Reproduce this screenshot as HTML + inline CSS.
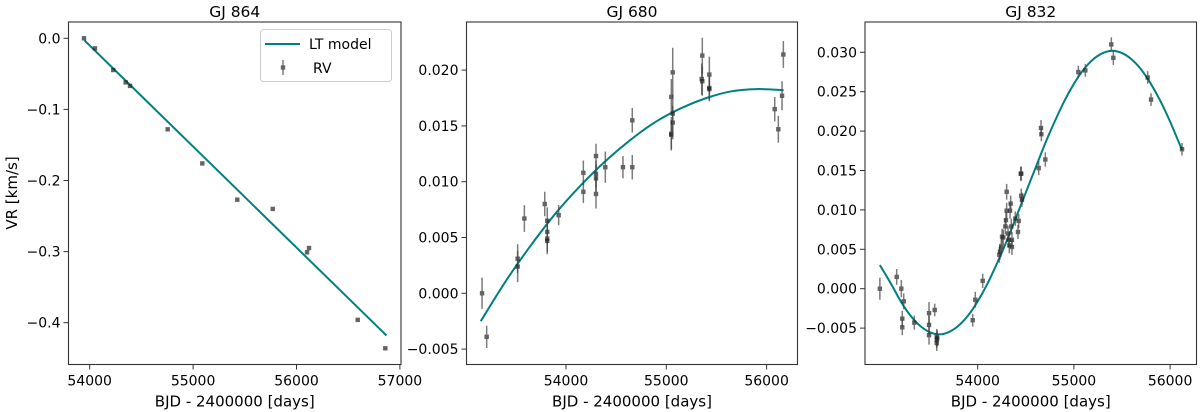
<!DOCTYPE html>
<html><head><meta charset="utf-8">
<style>
html,body{margin:0;padding:0;background:#fff;}
svg{display:block;font-family:"DejaVu Sans","Liberation Sans",sans-serif;}
</style></head>
<body>
<svg id="fig" width="1200" height="412" viewBox="0 0 1200 412" xmlns="http://www.w3.org/2000/svg"></svg>
<script>
// ---------- GJ 864 ----------
const p1DaysRV = [53945,54051,54228,54348,54390,54754,55089,55427,55770,56102,56121,56592,56859];
const p1ValsRV = [0,-0.0142,-0.0446,-0.062,-0.067,-0.128,-0.176,-0.227,-0.240,-0.301,-0.295,-0.396,-0.436];
const p1ErrRV  = [0.002,0.002,0.002,0.002,0.002,0.002,0.002,0.002,0.002,0.003,0.003,0.002,0.002];
const p1ModelDays = [53950,56870];
const p1ModelVals = [-0.003,-0.418];
const p1XTicks = [54000,55000,56000,57000];
const p1YTicks = [0,-0.1,-0.2,-0.3,-0.4];
const p1YTickLabels = ["0.0","\u22120.1","\u22120.2","\u22120.3","\u22120.4"];

// ---------- GJ 680 ----------
const p2DaysRV = [53163,53209,53518,53518,53585,53788,53813,53813,53813,53813,53927,54173,54173,54299,54299,54299,54299,54392,54568,54661,54661,55050,55050,55050,55064,55064,55064,55359,55353,55359,55429,55429,55429,56081,56117,56154,56167];
const p2ValsRV = [0,-0.0039,0.0031,0.0024,0.0067,0.0080,0.0065,0.0055,0.0049,0.0047,0.0070,0.0108,0.0091,0.0123,0.0107,0.0103,0.0089,0.0113,0.0113,0.0155,0.0113,0.0176,0.0143,0.0142,0.0198,0.0153,0.0161,0.0213,0.0192,0.0190,0.0196,0.0184,0.0183,0.0165,0.0147,0.0177,0.0214];
const p2ErrRV  = [0.0014,0.0010,0.0013,0.0014,0.0012,0.0011,0.0012,0.0012,0.0012,0.0012,0.0009,0.0011,0.0010,0.0011,0.0012,0.0012,0.0013,0.0014,0.0010,0.0011,0.0011,0.0016,0.0015,0.0013,0.0022,0.0015,0.0017,0.0016,0.0014,0.0013,0.0016,0.0011,0.0011,0.0011,0.0012,0.0013,0.0012];
const p2ModelDays = [53150,53400,53650,53900,54150,54400,54650,54900,55150,55400,55650,55900,56170];
const p2ModelVals = [-0.0025,0.0011,0.0043,0.0072,0.0097,0.0119,0.0138,0.0154,0.0166,0.0175,0.0181,0.0183,0.0182];
const p2XTicks = [54000,55000,56000];
const p2YTicks = [0.02,0.015,0.01,0.005,0,-0.005];
const p2YTickLabels = ["0.020","0.015","0.010","0.005","0.000","\u22120.005"];

// ---------- GJ 832 ----------
const p3DaysRV = [52983,53158,53206,53231,53216,53216,53341,53494,53494,53494,53553,53574,53574,53574,53580,53948,53975,54052,54225,54232,54245,54253,54266,54287,54294,54301,54301,54315,54322,54329,54336,54343,54349,54356,54356,54391,54419,54426,54447,54453,54453,54460,54634,54658,54662,54703,55046,55119,55389,55410,55767,55802,56124];
const p3ValsRV = [0,0.0015,0,-0.0016,-0.0038,-0.0049,-0.0043,-0.0031,-0.0046,-0.0059,-0.0027,-0.0061,-0.0065,-0.0069,-0.0063,-0.0040,-0.0014,0.0010,0.0043,0.0047,0.0053,0.0066,0.0065,0.0079,0.0087,0.0099,0.0123,0.0070,0.0062,0.0055,0.0099,0.0108,0.0079,0.0053,0.0062,0.0089,0.0072,0.0086,0.0146,0.0146,0.0118,0.0113,0.0153,0.0204,0.0196,0.0164,0.0275,0.0277,0.0310,0.0293,0.0268,0.0240,0.0177];
const p3ErrRV  = [0.0014,0.0010,0.0011,0.0010,0.0010,0.0010,0.0009,0.0014,0.0012,0.0012,0.0008,0.0010,0.0010,0.0010,0.0010,0.0008,0.0010,0.0009,0.0010,0.0010,0.0010,0.0010,0.0010,0.0010,0.0010,0.0010,0.0010,0.0010,0.0010,0.0010,0.0010,0.0010,0.0010,0.0010,0.0010,0.0009,0.0009,0.0009,0.0009,0.0009,0.0009,0.0009,0.0009,0.0010,0.0009,0.0009,0.0008,0.0008,0.0009,0.0009,0.0008,0.0008,0.0008];
const p3ModelDays = [52983,53100,53200,53300,53400,53500,53600,53700,53800,53900,54000,54100,54200,54300,54400,54500,54600,54700,54800,54900,55000,55100,55200,55300,55400,55500,55600,55700,55800,55900,56000,56124];
const p3ModelVals = [0.0030,0.0006,-0.0016,-0.0034,-0.0047,-0.0055,-0.0058,-0.0055,-0.0047,-0.0034,-0.0016,0.0006,0.0032,0.0060,0.0091,0.0122,0.0153,0.0184,0.0212,0.0238,0.0260,0.0278,0.0291,0.0299,0.0302,0.0299,0.0291,0.0278,0.0260,0.0238,0.0212,0.0176];
const p3XTicks = [54000,55000,56000];
const p3YTicks = [0.03,0.025,0.02,0.015,0.01,0.005,0,-0.005];
const p3YTickLabels = ["0.030","0.025","0.020","0.015","0.010","0.005","0.000","\u22120.005"];

const NS = "http://www.w3.org/2000/svg";
const svg = document.getElementById('fig');
function mk(tag, attrs, parent){
  const e = document.createElementNS(NS, tag);
  for (const k in attrs) e.setAttribute(k, attrs[k]);
  (parent||svg).appendChild(e);
  return e;
}

// panel geometry (pixel layout only)
const panels = [
  {title:"GJ 864", key:"gj864", L:68.5, R:401, T:22, B:364.5, x0:54000,xp0:89.7,xs:0.1034, y0:0,yp0:38.3,ys:711,
   days:p1DaysRV, vals:p1ValsRV, errs:p1ErrRV, md:p1ModelDays, mv:p1ModelVals, xt:p1XTicks, yt:p1YTicks, ytl:p1YTickLabels, xtl:p1XTicks.map(String)},
  {title:"GJ 680", key:"gj680", L:466.5, R:797.5, T:22, B:364.5, x0:54000,xp0:566,xs:0.1003, y0:0,yp0:293.3,ys:11160,
   days:p2DaysRV, vals:p2ValsRV, errs:p2ErrRV, md:p2ModelDays, mv:p2ModelVals, xt:p2XTicks, yt:p2YTicks, ytl:p2YTickLabels, xtl:p2XTicks.map(String)},
  {title:"GJ 832", key:"gj832", L:865, R:1196.5, T:22, B:364.5, x0:54000,xp0:977.7,xs:0.0962, y0:0,yp0:288.7,ys:7880,
   days:p3DaysRV, vals:p3ValsRV, errs:p3ErrRV, md:p3ModelDays, mv:p3ModelVals, xt:p3XTicks, yt:p3YTicks, ytl:p3YTickLabels, xtl:p3XTicks.map(String)}
];

function smoothPath(pts){
  if (pts.length===2) return `M${pts[0][0]},${pts[0][1]}L${pts[1][0]},${pts[1][1]}`;
  let d = `M${pts[0][0].toFixed(2)},${pts[0][1].toFixed(2)}`;
  for (let i=0;i<pts.length-1;i++){
    const p0=pts[Math.max(0,i-1)], p1=pts[i], p2=pts[i+1], p3=pts[Math.min(pts.length-1,i+2)];
    const c1=[p1[0]+(p2[0]-p0[0])/6, p1[1]+(p2[1]-p0[1])/6];
    const c2=[p2[0]-(p3[0]-p1[0])/6, p2[1]-(p3[1]-p1[1])/6];
    d += `C${c1[0].toFixed(2)},${c1[1].toFixed(2)} ${c2[0].toFixed(2)},${c2[1].toFixed(2)} ${p2[0].toFixed(2)},${p2[1].toFixed(2)}`;
  }
  return d;
}

panels.forEach(p=>{
  const X = d => p.xp0 + (d - p.x0)*p.xs;
  const Y = v => p.yp0 - (v - p.y0)*p.ys;
  const g = mk('g',{});
  
  

  const t = mk('text',{x:(p.L+p.R)/2, y:17, 'text-anchor':'middle','font-size':'15.5'}, g);
  t.textContent = p.title;
  
  

  // model line
  const clip = mk('clipPath',{id:'clip-'+p.key}, g);
  mk('rect',{x:p.L,y:p.T,width:p.R-p.L,height:p.B-p.T}, clip);
  const pts = p.md.map((d,i)=>[X(d),Y(p.mv[i])]);
  const line = mk('path',{d:smoothPath(pts), fill:'none', stroke:'#008080','stroke-width':2,'clip-path':`url(#clip-${p.key})`}, g);
  
  

  // RV points
  p.days.forEach((d,i)=>{
    const cx = X(d), cy = Y(p.vals[i]);
    const e = p.errs[i]*p.ys;
    const pg = mk('g',{opacity:0.7}, g);
    
    
    mk('line',{x1:cx,x2:cx,y1:cy-e,y2:cy+e,stroke:'#444','stroke-width':1.5}, pg);
    mk('rect',{x:cx-2.2,y:cy-2.2,width:4.4,height:4.4,fill:'#222'}, pg);
  });

  // frame
  const fr = mk('rect',{x:p.L,y:p.T,width:p.R-p.L,height:p.B-p.T,fill:'none',stroke:'#333','stroke-width':1.1}, g);
  
  

  // x ticks
  p.xt.forEach((v,i)=>{
    const x = X(v);
    mk('line',{x1:x,x2:x,y1:p.B,y2:p.B+5,stroke:'#333','stroke-width':1}, g);
    const tl = mk('text',{x:x,y:p.B+21,'text-anchor':'middle','font-size':'14'}, g);
    tl.textContent = p.xtl[i];
    
    
  });
  const xl = mk('text',{x:(p.L+p.R)/2,y:p.B+42,'text-anchor':'middle','font-size':'15'}, g);
  xl.textContent = "BJD - 2400000 [days]";
  
  

  // y ticks
  p.yt.forEach((v,i)=>{
    const y = Y(v);
    mk('line',{x1:p.L-5,x2:p.L,y1:y,y2:y,stroke:'#333','stroke-width':1}, g);
    const tl = mk('text',{x:p.L-8,y:y+5,'text-anchor':'end','font-size':'14'}, g);
    tl.textContent = p.ytl[i];
    
    
  });
});

// y axis title
const yt = mk('text',{x:0,y:0,'text-anchor':'middle','font-size':'15',transform:'translate(17,193) rotate(-90)'});
yt.textContent = "VR [km/s]";



// legend
const lg = mk('g',{});


mk('rect',{x:260.5,y:29.5,width:131,height:52,rx:3,fill:'#fff',stroke:'#ccc','stroke-width':1}, lg);
mk('line',{x1:265,x2:300,y1:44,y2:44,stroke:'#008080','stroke-width':2}, lg);
const l1 = mk('text',{x:309,y:49,'font-size':'14'}, lg);
l1.textContent = "LT model";


const lm = mk('g',{opacity:0.7}, lg);
mk('line',{x1:283,x2:283,y1:60,y2:75,stroke:'#444','stroke-width':1.5}, lm);
mk('rect',{x:280.8,y:65.3,width:4.4,height:4.4,fill:'#222'}, lm);
const l2 = mk('text',{x:313,y:73,'font-size':'14'}, lg);
l2.textContent = "RV";


</script>
</body></html>
